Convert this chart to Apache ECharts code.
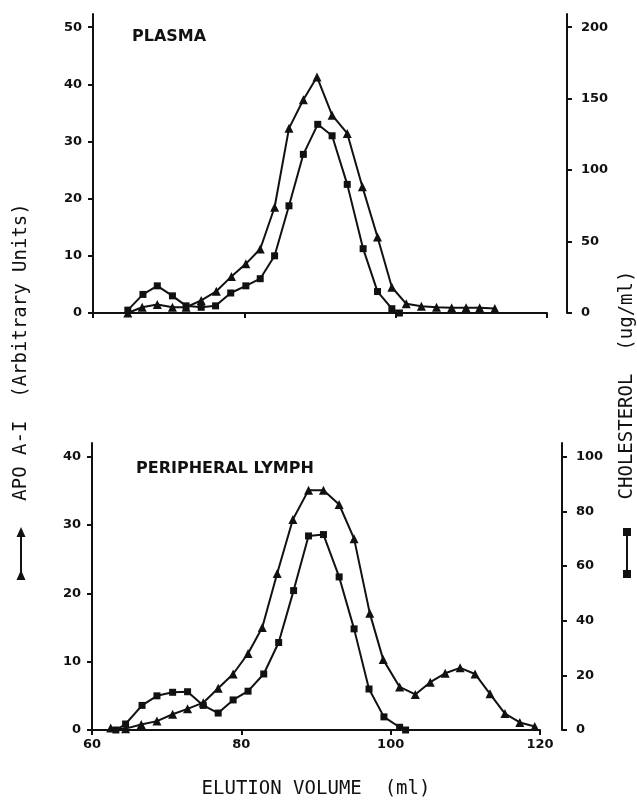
<!DOCTYPE html>
<html>
<head>
<meta charset="utf-8">
<script src="https://cdn.jsdelivr.net/npm/echarts@6/dist/echarts.min.js"></script>
<style>
  html, body { margin: 0; padding: 0; background: #fff; }
  #chart { width: 637px; height: 800px; }
</style>
</head>
<body>
<div id="chart"></div>
<script>
// Plasma panel: APO A-I (triangles, left axis) and cholesterol (squares, right axis)
const plasmaApoX = [64.6, 66.5, 68.5, 70.5, 72.3, 74.3, 76.3, 78.3, 80.2, 82.1, 84, 85.9, 87.8,
  89.6, 91.6, 93.6, 95.6, 97.6, 99.5, 101.4, 103.4, 105.4, 107.4, 109.3, 111.1, 113.1];
const plasmaApo = [0, 1, 1.5, 1, 1, 2.2, 3.8, 6.4, 8.6, 11.2, 18.5, 32.3, 37.3,
  41.3, 34.6, 31.4, 22.1, 13.3, 4.5, 1.6, 1.2, 1, 0.9, 0.9, 0.9, 0.8];
const plasmaCholX = [64.6, 66.6, 68.5, 70.5, 72.3, 74.3, 76.2, 78.2, 80.2, 82.1, 84, 85.9, 87.8,
  89.7, 91.6, 93.6, 95.7, 97.6, 99.5, 100.5];
const plasmaChol = [2, 13, 19, 12, 5, 4, 5, 14, 19, 24, 40, 75, 111,
  132, 124, 90, 45, 15, 3, 0];

// Peripheral lymph panel
const lymphApoX = [62.5, 64.5, 66.6, 68.7, 70.8, 72.8, 74.9, 76.9, 78.9, 80.9, 82.8, 84.8, 86.9,
  89, 91, 93.1, 95.1, 97.2, 99, 101.2, 103.3, 105.3, 107.3, 109.3, 111.3, 113.3, 115.3, 117.3, 119.3];
const lymphApo = [0.3, 0.2, 0.8, 1.3, 2.3, 3.1, 4, 6.1, 8.2, 11.2, 15, 22.9, 30.8,
  35.1, 35.1, 33, 28, 17.1, 10.3, 6.3, 5.2, 7, 8.3, 9.1, 8.2, 5.3, 2.4, 1.1, 0.5];
const lymphCholX = [63.2, 64.5, 66.7, 68.7, 70.8, 72.8, 74.9, 76.9, 78.9, 80.9, 83, 85, 87,
  89, 91, 93.1, 95.1, 97.1, 99.1, 101.2, 102];
const lymphChol = [0, 2.2, 9, 12.5, 13.8, 14, 9, 6.2, 11, 14.2, 20.5, 32, 51,
  71, 71.5, 56, 37, 15, 4.8, 1, 0];

const xTicks = [60, 80, 100, 120];
const plasmaApoTicks = [0, 10, 20, 30, 40, 50];
const plasmaCholTicks = [0, 50, 100, 150, 200];
const lymphApoTicks = [0, 10, 20, 30, 40];
const lymphCholTicks = [0, 20, 40, 60, 80, 100];

const ink = '#111';
const tickFont = { color: ink, fontFamily: 'DejaVu Sans', fontWeight: 'bold', fontSize: 13 };
const monoFont = '"DejaVu Sans Mono"';

function pairs(xs, ys) {
  return xs.map((x, i) => [x, ys[i]]);
}

function yAxisDef(grid, pos, max, ticks, offset) {
  return {
    type: 'value', gridIndex: grid, position: pos, offset: offset || 0,
    min: 0, max: max,
    axisLine: { show: true, lineStyle: { color: ink, width: 2 } },
    axisTick: { show: true, length: 5, customValues: ticks, lineStyle: { color: ink, width: 2 } },
    axisLabel: Object.assign({ customValues: ticks, margin: pos === 'left' ? 11 : 14 }, tickFont),
    splitLine: { show: false }
  };
}

function lineSeries(name, xs, ys, xi, yi, symbol) {
  return {
    name: name, type: 'line', xAxisIndex: xi, yAxisIndex: yi,
    data: pairs(xs, ys),
    symbol: symbol, symbolSize: symbol === 'rect' ? 7 : 9,
    itemStyle: { color: ink },
    lineStyle: { color: ink, width: 2 },
    animation: false
  };
}

const chart = echarts.init(document.getElementById('chart'));

const option = {
  backgroundColor: '#fff',
  animation: false,
  grid: [
    { left: 93, width: 454, top: 14, height: 299 },
    { left: 92, width: 448, top: 443, height: 296 }
  ],
  xAxis: [
    {
      type: 'value', gridIndex: 0, min: 60, max: 120, interval: 20,
      axisLine: { lineStyle: { color: ink, width: 2 } },
      axisTick: { length: 5, lineStyle: { color: ink, width: 2 } },
      axisLabel: { show: false },
      splitLine: { show: false }
    },
    {
      type: 'value', gridIndex: 1, min: 60, max: 120, interval: 20,
      axisLine: { lineStyle: { color: ink, width: 2 } },
      axisTick: { length: 5, lineStyle: { color: ink, width: 2 } },
      axisLabel: Object.assign({ margin: 8, customValues: xTicks }, tickFont),
      splitLine: { show: false },
      name: 'ELUTION VOLUME  (ml)', nameLocation: 'middle', nameGap: 50,
      nameTextStyle: { color: ink, fontFamily: 'DejaVu Sans Mono', fontSize: 19 }
    }
  ],
  yAxis: [
    yAxisDef(0, 'left', 52.3, plasmaApoTicks),
    yAxisDef(0, 'right', 209.2, plasmaCholTicks, 20),
    yAxisDef(1, 'left', 42, lymphApoTicks),
    yAxisDef(1, 'right', 105, lymphCholTicks, 22)
  ],
  title: [
    { text: 'PLASMA', left: 127, top: 24,
      textStyle: { color: ink, fontFamily: 'DejaVu Sans', fontWeight: 'bold', fontSize: 16 } },
    { text: 'PERIPHERAL LYMPH', left: 131, top: 456,
      textStyle: { color: ink, fontFamily: 'DejaVu Sans', fontWeight: 'bold', fontSize: 16 } }
  ],
  graphic: [
    // left axis title with its legend symbol
    { type: 'text', x: 21, y: 352, rotation: Math.PI / 2,
      style: { text: 'APO A-I  (Arbitrary Units)', fill: ink, font: '19px ' + monoFont,
        textAlign: 'center', textVerticalAlign: 'middle' } },
    { type: 'line', shape: { x1: 21, y1: 533, x2: 21, y2: 574 }, style: { stroke: ink, lineWidth: 2 } },
    { type: 'polygon', shape: { points: [[21, 527], [16.5, 537], [25.5, 537]] }, style: { fill: ink } },
    { type: 'polygon', shape: { points: [[21, 570], [16.5, 580], [25.5, 580]] }, style: { fill: ink } },
    // right axis title with its legend symbol
    { type: 'text', x: 627, y: 385, rotation: Math.PI / 2,
      style: { text: 'CHOLESTEROL  (ug/ml)', fill: ink, font: '19px ' + monoFont,
        textAlign: 'center', textVerticalAlign: 'middle' } },
    { type: 'line', shape: { x1: 627, y1: 532, x2: 627, y2: 574 }, style: { stroke: ink, lineWidth: 2 } },
    { type: 'rect', shape: { x: 623, y: 528, width: 8, height: 8 }, style: { fill: ink } },
    { type: 'rect', shape: { x: 623, y: 570, width: 8, height: 8 }, style: { fill: ink } }
  ],
  series: [
    lineSeries('APO A-I plasma', plasmaApoX, plasmaApo, 0, 0, 'triangle'),
    lineSeries('Cholesterol plasma', plasmaCholX, plasmaChol, 0, 1, 'rect'),
    lineSeries('APO A-I lymph', lymphApoX, lymphApo, 1, 2, 'triangle'),
    lineSeries('Cholesterol lymph', lymphCholX, lymphChol, 1, 3, 'rect')
  ]
};

chart.setOption(option);
</script>
</body>
</html>
